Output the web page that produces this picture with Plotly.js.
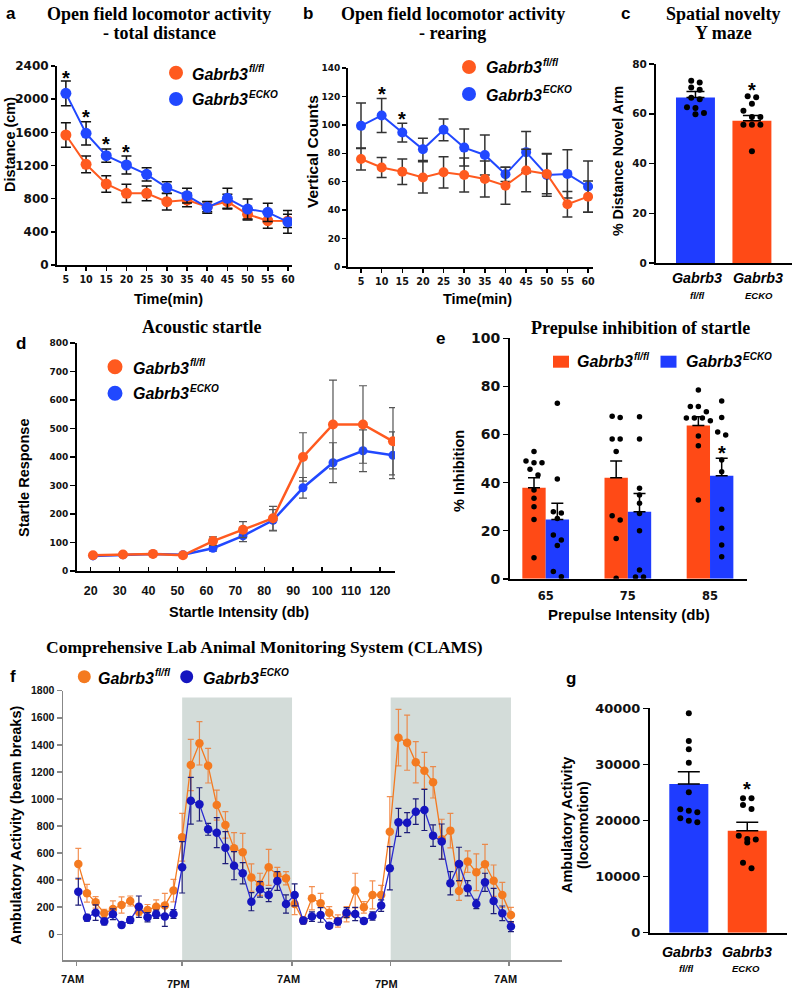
<!DOCTYPE html>
<html><head><meta charset="utf-8">
<script src="https://cdn.plot.ly/plotly-3.0.1.min.js"></script>
<style>html,body{margin:0;padding:0;background:#fff;}#chart{width:799px;height:993px;}</style>
</head><body><div id="chart"></div>
<script>
// ---------------- DATA ----------------
// a: open field total distance
const timeMin = [5,10,15,20,25,30,35,40,45,50,55,60];
const aFl    = [1568,1214,977,864,864,764,784,703,764,611,535,531];
const aFlErr = [148,100,100,109,89,100,81,60,89,68,93,80];
const aKo    = [2070,1588,1319,1206,1093,933,836,695,804,675,635,520];
const aKoErr = [149,141,80,108,81,72,89,70,121,121,109,137];
const aStarX = [5,10,15,20];
const aStarY = [2315,1845,1520,1423];
// b: rearing
const bFl    = [76,70,67,63,66.6,64.7,61.9,57.2,67.9,65.5,44.2,49.5];
const bFlErr = [7.8,7,9,11,11,12,12.6,13,15,14,9,11];
const bKo    = [99.3,106.6,94.6,82.8,96.5,84,78.8,65.2,80.8,64.8,65.5,56.6];
const bKoErr = [16,12,6.6,7.8,7.7,13,14,5,14.5,15,17,18];
const bStarX = [10,15];
const bStarY = [125,107.6];
// c: Y maze
const cMeans = [66.5,57.2];
const cErr   = [2.4,2.1];
const cFlDots = [73.3,72.6,70.6,69.6,66.4,65.8,62.6,62.3,60.3,59.8];
const cKoDots = [67,66.6,64,61.2,58.7,58.7,55.6,55.6,55.6,44.9];
const cStarY = 71.6;
// d: acoustic startle
const startleDb = [20,30,40,50,60,70,80,90,100,110,120];
const dFl    = [55,58,60,55,105,145,185,400,514,514,455];
const dFlErr = [4,4,4,4,15,28,42,85,156,136,118];
const dKo    = [53,57,60,57,80,123,178,292,380,422,406];
const dKoErr = [3,3,3,3,10,20,37,36,70,73,82];
// e: prepulse inhibition
const ppiDb  = ['65','75','85'];
const eFl    = [37.9,42.0,63.7];
const eFlErr = [4.1,7.0,3.7];
const eKo    = [24.7,27.9,42.9];
const eKoErr = [6.7,7.6,7.2];
const eFlDots65 = [52.9,49.0,48.3,48.3,45.5,43.2,36.9,33.5,30,24.7,8.8];
const eKoDots65 = [73.0,41.5,27.9,27.4,25.1,18.2,16.1,13.8,3.0,0.9];
const eFlDots75 = [67.6,67.1,58.1,58.1,52.9,26.2,24.5,16.8,0.2];
const eKoDots75 = [67.4,58.1,37.6,34.8,31.4,27.2,20,3.7,0.8,0.8];
const eFlDots85 = [78.5,71.6,71.6,69.5,66.9,66.9,66.9,65.7,59.4,55.3,32.8];
const eKoDots85 = [73.9,67.1,61.0,59.8,49.4,44.5,28.9,21.0,14.1,9.2];
const eStarY = 54.4;
// f: CLAMS hourly ambulatory activity
const fFl = [520,303,236,155,187,217,246,167,180,204,212,323,
  717,1251,1411,1246,955,808,635,606,419,369,495,438,414,
  224,101,266,229,160,98,148,323,199,291,291,
  758,1453,1416,1271,1209,1123,702,766,320,537,458,517,396,291,143];
const fFlErr = [115,66,42,30,60,60,37,25,40,50,91,83,
  177,190,160,128,111,98,116,140,101,82,133,57,49,
  79,20,86,74,44,45,56,128,42,103,71,
  259,209,204,152,135,116,148,128,70,79,136,148,116,93,56];
const fKo = [315,123,160,94,148,69,106,204,126,148,131,150,
  495,987,960,776,751,640,507,451,241,332,291,394,224,
  291,101,131,143,64,94,160,150,98,135,212,
  488,827,825,906,919,729,685,377,520,340,224,384,246,155,57];
const fKoErr = [99,25,57,25,40,20,25,79,35,30,73,32,
  190,173,123,44,111,118,104,79,67,57,49,69,67,
  81,25,35,54,20,25,37,49,20,30,42,
  160,104,74,94,152,79,130,86,123,56,35,67,94,54,37];
const fDarkStart = [12,36.1];
const fDarkEnd   = [24.7,50];
const fTickPos  = [-0.2,12,24.7,36.1,49.8];
const fTickText = ['7AM','7PM','7AM','7PM','7AM'];
const fYTicks = [0,200,400,600,800,1000,1200,1400,1600,1800];
// g: total ambulatory activity
const gMeans = [26500,18180];
const gErr   = [2200,1500];
const gFlDots = [39100,34170,32690,30300,25020,22000,21750,21460,20390,19970,19680];
const gKoDots = [23950,23950,22760,22050,17300,16600,16100,16700,12480,11480];
const gStarY = 26500;
const genoName = 'Gabrb3';
const genoSub = ['fl/fl','ECKO'];

// ---------------- STYLE / HELPERS ----------------
const W=799,H=993;
const fx=p=>p/W, fy=p=>1-p/H;
const SANS='Liberation Sans, Arial, sans-serif';
const WIDE='DejaVu Sans, sans-serif';
const SERIF='Liberation Serif, Times New Roman, serif';
const OR='#ff5a1f', BL='#2148ff';
const BOR='#ff4a16', BBL='#1f3cff';
const FO='#f47a20', FB='#1515c0';

function F(family,size,extra){return Object.assign({family,size,color:'#000',weight:'bold'},extra||{});}
function txt(text,xp,yp,font,o){return Object.assign({xref:'paper',yref:'paper',x:fx(xp),y:fy(yp),text,showarrow:false,xanchor:'center',yanchor:'middle',font},o||{});}
function star(xref,yref,x,y,size){return {xref,yref,x,y,text:'*',showarrow:false,xanchor:'center',yanchor:'middle',yshift:-5,font:F(SANS,size||20)};}
function circ(cx,cy,r,color){return {type:'circle',xref:'paper',yref:'paper',xsizemode:'pixel',ysizemode:'pixel',xanchor:fx(cx),yanchor:fy(cy),x0:-r,x1:r,y0:-r,y1:r,fillcolor:color,line:{width:0}};}
function rectL(cx,cy,w,h,color){return {type:'rect',xref:'paper',yref:'paper',xsizemode:'pixel',ysizemode:'pixel',xanchor:fx(cx),yanchor:fy(cy),x0:-w/2,x1:w/2,y0:-h/2,y1:h/2,fillcolor:color,line:{width:0}};}

// beeswarm-like row spreading of dots (returns x positions)
function swarm(vals,center,pxPerY,pxPerX,gap){
  const order=vals.map((v,i)=>i).sort((a,b)=>vals[b]-vals[a]);
  const rows=[];let cur=null;
  for(const i of order){
    const ypx=vals[i]*pxPerY;
    if(cur && Math.abs(cur.y0-ypx)<gap*0.75){cur.m.push(i);} else {cur={y0:ypx,m:[i]};rows.push(cur);}
  }
  const xs=new Array(vals.length);
  for(const r of rows){const n=r.m.length;r.m.forEach((i,k)=>{xs[i]=center+((k-(n-1)/2)*gap)/pxPerX;});}
  return xs;
}

const base={showgrid:false,zeroline:false,showline:true,linecolor:'#000',linewidth:2,ticks:'outside',tickcolor:'#000',tickwidth:1.5,ticklen:4,fixedrange:true};
function xa(l,r,range,o){return Object.assign({},base,{domain:[fx(l),fx(r)],range},o);}
function ya(b,t,range,o){return Object.assign({},base,{domain:[fy(b),fy(t)],range},o);}

const traces=[];
// ---- a ----
traces.push({x:timeMin,y:aFl,xaxis:'x',yaxis:'y',mode:'lines+markers',line:{color:OR,width:2},marker:{size:11,color:OR},
  error_y:{type:'data',array:aFlErr,color:'#111',thickness:1.5,width:5},showlegend:false});
traces.push({x:timeMin,y:aKo,xaxis:'x',yaxis:'y',mode:'lines+markers',line:{color:BL,width:2},marker:{size:11,color:BL},
  error_y:{type:'data',array:aKoErr,color:'#111',thickness:1.5,width:5},showlegend:false});
// ---- b ----
traces.push({x:timeMin,y:bKo,xaxis:'x2',yaxis:'y2',mode:'lines+markers',line:{color:BL,width:2},marker:{size:10,color:BL},
  error_y:{type:'data',array:bKoErr,color:'#333',thickness:1.5,width:5},showlegend:false});
traces.push({x:timeMin,y:bFl,xaxis:'x2',yaxis:'y2',mode:'lines+markers',line:{color:OR,width:2},marker:{size:10,color:OR},
  error_y:{type:'data',array:bFlErr,color:'#333',thickness:1.5,width:5},showlegend:false});
// ---- c ----
traces.push({type:'bar',x:[0,1],y:cMeans,xaxis:'x3',yaxis:'y3',width:0.69,marker:{color:[BBL,BOR],line:{width:0}},
  error_y:{type:'data',symmetric:false,array:cErr,arrayminus:[0,0],color:'#000',thickness:1.5,width:9},showlegend:false});
traces.push({x:swarm(cFlDots,0,2.4875,56.5,8.5).concat(swarm(cKoDots,1,2.4875,56.5,8.5)),y:cFlDots.concat(cKoDots),
  xaxis:'x3',yaxis:'y3',mode:'markers',marker:{size:6,color:'#000'},showlegend:false});
// ---- d ---- (x4 carries the tick labels, x5 the data scale, as in the reference)
traces.push({x:[],y:[],xaxis:'x4',yaxis:'y4',mode:'markers',showlegend:false});
traces.push({x:startleDb,y:dKo,xaxis:'x5',yaxis:'y4',mode:'lines+markers',line:{color:BL,width:2.5},marker:{size:9,color:BL},
  error_y:{type:'data',array:dKoErr,color:'#555',thickness:1.2,width:4},showlegend:false});
traces.push({x:startleDb,y:dFl,xaxis:'x5',yaxis:'y4',mode:'lines+markers',line:{color:OR,width:2.5},marker:{size:10,color:OR},
  error_y:{type:'data',array:dFlErr,color:'#555',thickness:1.2,width:4},showlegend:false});
// ---- e ----
const eOff=0.142, eW=0.284;
const eIdx=ppiDb.map((_,i)=>i);
traces.push({type:'bar',x:eIdx.map(i=>i-eOff),y:eFl,xaxis:'x6',yaxis:'y6',width:eW,marker:{color:BOR,line:{width:0}},
  error_y:{type:'data',symmetric:false,array:eFlErr,arrayminus:[0,0,0],color:'#000',thickness:1.5,width:6},showlegend:false});
traces.push({type:'bar',x:eIdx.map(i=>i+eOff),y:eKo,xaxis:'x6',yaxis:'y6',width:eW,marker:{color:BBL,line:{width:0}},
  error_y:{type:'data',symmetric:false,array:eKoErr,arrayminus:[0,0,0],color:'#000',thickness:1.5,width:6},showlegend:false});
const eFlG=[eFlDots65,eFlDots75,eFlDots85], eKoG=[eKoDots65,eKoDots75,eKoDots85];
let edx=[],edy=[];
eFlG.forEach((g,i)=>{edx=edx.concat(swarm(g,i-eOff,2.405,82.2,8));edy=edy.concat(g);});
eKoG.forEach((g,i)=>{edx=edx.concat(swarm(g,i+eOff,2.405,82.2,8));edy=edy.concat(g);});
traces.push({x:edx,y:edy,xaxis:'x6',yaxis:'y6',mode:'markers',marker:{size:5.5,color:'#000'},showlegend:false});
// ---- f ----
const fIdx=fFl.map((_,i)=>i);
traces.push({x:fIdx,y:fFl,xaxis:'x7',yaxis:'y7',mode:'lines+markers',line:{color:FO,width:1.3},marker:{size:8.5,color:FO},
  error_y:{type:'data',array:fFlErr,color:'rgba(240,118,40,0.8)',thickness:1.2,width:3},showlegend:false});
traces.push({x:fIdx,y:fKo,xaxis:'x7',yaxis:'y7',mode:'lines+markers',line:{color:'#2a2ad0',width:1.3},marker:{size:8.5,color:FB},
  error_y:{type:'data',array:fKoErr,color:'#1c1c78',thickness:1.2,width:3},showlegend:false});
// ---- g ----
traces.push({type:'bar',x:[0,1],y:gMeans,xaxis:'x8',yaxis:'y8',width:0.668,marker:{color:[BBL,BOR],line:{width:0}},
  error_y:{type:'data',symmetric:false,array:gErr,arrayminus:[0,0],color:'#000',thickness:1.5,width:11},showlegend:false});
traces.push({x:swarm(gFlDots,0,0.00561,58.4,8.5).concat(swarm(gKoDots,1,0.00561,58.4,8.5)),y:gFlDots.concat(gKoDots),
  xaxis:'x8',yaxis:'y8',mode:'markers',marker:{size:6,color:'#000'},showlegend:false});

// ---------------- LAYOUT ----------------
const layout={width:W,height:H,margin:{l:0,r:0,t:0,b:0},paper_bgcolor:'#fff',plot_bgcolor:'rgba(0,0,0,0)',barmode:'overlay',showlegend:false,
  xaxis: xa(57,292,[2.8,61],{anchor:'y',tickvals:timeMin,tickfont:F(WIDE,9.6,{color:'#111'})}),
  yaxis: ya(265,66,[0,2400],{anchor:'x',dtick:400,tickfont:F(WIDE,12,{color:'#111'})}),
  xaxis2:xa(348,593,[1.85,61.2],{anchor:'y2',tickvals:timeMin,tickfont:F(WIDE,9.6,{color:'#111'})}),
  yaxis2:ya(267,68,[0,140],{anchor:'x2',dtick:20,tickfont:F(WIDE,9,{color:'#111'})}),
  xaxis3:xa(656,792,[-0.699,1.71],{anchor:'y3',ticks:'',showticklabels:false}),
  yaxis3:ya(263,64,[0,80],{anchor:'x3',dtick:20,ticklen:5,tickfont:F(WIDE,10.5,{color:'#111'})}),
  xaxis4:xa(77,395,[15.26,125.18],{anchor:'y4',tickvals:startleDb,ticks:'inside',ticklen:4,ticklabelstandoff:7,tickfont:F(SANS,12.5,{color:'#111'})}),
  xaxis5:{domain:[fx(77),fx(395)],anchor:'y4',range:[14.67,120.67],visible:false,fixedrange:true},
  yaxis4:ya(571,343,[0,800],{anchor:'x4',dtick:100,ticklen:5,tickfont:F(WIDE,9,{color:'#111'})}),
  xaxis6:xa(510,747,[-0.434,2.45],{anchor:'y6',tickvals:eIdx,ticktext:ppiDb,ticks:'',ticklabelstandoff:5,tickfont:F(WIDE,11.5,{color:'#111'})}),
  yaxis6:ya(578.8,338.3,[0,100],{anchor:'x6',dtick:20,ticklen:5,tickfont:F(WIDE,14,{color:'#111'})}),
  xaxis7:xa(63,562,[-1.77,55.9],{anchor:'y7',tickvals:fTickPos,showticklabels:false,linecolor:'#888',linewidth:1.5,tickcolor:'#888',ticklen:4}),
  yaxis7:ya(960,690.7,[-190,1800],{anchor:'x7',tickvals:fYTicks,linecolor:'#888',linewidth:1.5,tickcolor:'#888',ticklen:5,tickfont:F(SANS,10.5,{color:'#111'})}),
  xaxis8:xa(650,787,[-0.664,1.68],{anchor:'y8',ticks:'',showticklabels:false}),
  yaxis8:ya(932.7,708.3,[0,40000],{anchor:'x8',dtick:10000,tickformat:'d',exponentformat:'none',ticklen:5,tickfont:F(WIDE,13,{color:'#111'})}),
  shapes:[], annotations:[]};

// f dark phases
fDarkStart.forEach((s,i)=>layout.shapes.push({type:'rect',xref:'x7',yref:'y7',x0:s,x1:fDarkEnd[i],y0:-190,y1:1750,fillcolor:'#d3dcd9',line:{width:0},layer:'below'}));

const A=layout.annotations, S=layout.shapes;
// panel letters
[['a',11,13],['b',308,13],['c',625,13],['d',21,343],['e',440,339],['f',13,676],['g',571,678]].forEach(p=>A.push(txt(p[0],p[1],p[2],F(SANS,17))));
// titles
const TF=F(SERIF,18);
A.push(txt('Open field locomotor activity',159,13.5,TF));
A.push(txt('- total distance',159,32.5,TF));
A.push(txt('Open field locomotor activity',453,13.5,TF));
A.push(txt('- rearing',452,32.5,TF));
A.push(txt('Spatial novelty',723,13.5,TF));
A.push(txt('Y maze',723,32.5,TF));
A.push(txt('Acoustic startle',201,327,TF));
A.push(txt('Prepulse inhibition of startle',640,328,TF));
A.push(txt('Comprehensive Lab Animal Monitoring System (CLAMS)',264,647,F(SERIF,17.5)));
// axis titles
const AT=F(SANS,14.5);
A.push(txt('Distance (cm)',10,145,AT,{textangle:-90}));
A.push(txt('Vertical Counts',312,152,F(SANS,15.5),{textangle:-90}));
A.push(txt('% Distance Novel Arm',618,161,F(SANS,14.2),{textangle:-90}));
A.push(txt('Startle Response',24,478,AT,{textangle:-90}));
A.push(txt('% Inhibition',459,471,AT,{textangle:-90}));
A.push(txt('Ambulatory Activity (beam breaks)',15.5,825,AT,{textangle:-90}));
A.push(txt('Ambulatory Activity',567,825,AT,{textangle:-90}));
A.push(txt('(locomotion)',583,825,AT,{textangle:-90}));
A.push(txt('Time(min)',168,299,AT));
A.push(txt('Time(min)',478,299,AT));
A.push(txt('Startle Intensity (db)',239,612,AT));
A.push(txt('Prepulse Intensity (db)',629,614,F(SANS,15)));
// c & g category labels
const GL=F(SANS,14.3,{style:'italic'}), GS=F(SANS,9.5,{style:'italic'});
A.push(txt(genoName,697,278,GL)); A.push(txt(genoName,758,278,GL));
A.push(txt(genoSub[0],697,295,GS)); A.push(txt(genoSub[1],759,295,GS));
A.push(txt(genoName,687,952,GL)); A.push(txt(genoName,747,952,GL));
A.push(txt(genoSub[0],686,968,GS)); A.push(txt(genoSub[1],746,968,GS));
// f x tick labels
fTickPos.forEach((p,i)=>A.push({xref:'x7',yref:'paper',x:p,y:fy(i%2?984:979),xshift:-4,text:fTickText[i],showarrow:false,xanchor:'center',yanchor:'middle',font:F(SANS,11,{color:'#111'})}));
// stars
aStarX.forEach((x,i)=>A.push(star('x','y',x,aStarY[i])));
bStarX.forEach((x,i)=>A.push(star('x2','y2',x,bStarY[i])));
A.push(star('x3','y3',1,cStarY));
A.push(star('x6','y6',2+eOff,eStarY));
A.push(star('x8','y8',1,gStarY));
// legends: marker shape + italic name + smaller raised superscript, each a plain text
const LF=F(SANS,16,{style:'italic'}), LS=F(SANS,10,{style:'italic'});
function legend(tx,cy,shape,sub){
  S.push(shape);
  A.push(txt(genoName,tx,cy+1,LF,{xanchor:'left'}));
  A.push(txt(sub,tx+57,cy-4.5,LS,{xanchor:'left'}));
}
legend(190,73,circ(176,72.7,7,OR),genoSub[0]);
legend(190,99,circ(176,99,7,BL),genoSub[1]);
legend(484,67,circ(469,67,7,OR),genoSub[0]);
legend(484,94,circ(469,94,7,BL),genoSub[1]);
legend(131,367,circ(115,366.7,7.5,OR),genoSub[0]);
legend(131,393,circ(115,393.3,7.5,BL),genoSub[1]);
legend(575,361,rectL(561,361.7,16,12,BOR),genoSub[0]);
legend(684,361,rectL(668.5,361.7,16,12,BBL),genoSub[1]);
legend(96,677,circ(84.3,676.7,6.5,FO),genoSub[0]);
legend(200.7,677,circ(186.7,676.7,6.5,FB),genoSub[1]);

Plotly.newPlot('chart',traces,layout,{displayModeBar:false,staticPlot:true});
</script></body></html>
